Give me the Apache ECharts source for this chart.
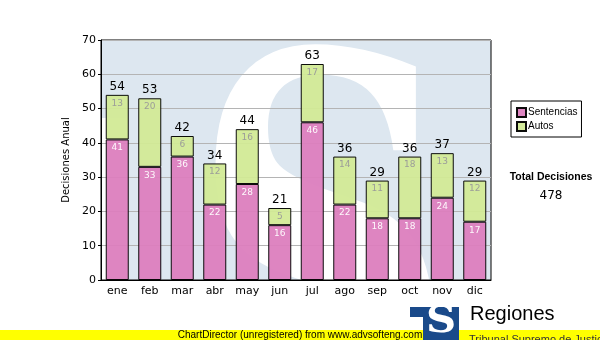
<!DOCTYPE html>
<html>
<head>
<meta charset="utf-8">
<script src="https://cdn.jsdelivr.net/npm/echarts@6/dist/echarts.min.js"></script>
<style>html,body{margin:0;padding:0;background:#fff}#c{width:600px;height:340px}</style>
</head>
<body>
<div id="c"></div>
<script>
var months = ['ene','feb','mar','abr','may','jun','jul','ago','sep','oct','nov','dic'];
var sentencias = [41,33,36,22,28,16,46,22,18,18,24,17];
var autos = [13,20,6,12,16,5,17,14,11,18,13,12];
var totals = sentencias.map(function(v,i){return v+autos[i];});
var grandTotal = totals.reduce(function(a,b){return a+b;},0);

var F = 'DejaVu Sans';
var chart = echarts.init(document.getElementById('c'));
chart.setOption({
  animation: false,
  backgroundColor: '#ffffff',
  grid: {left: 101, top: 40, width: 390, height: 240, show: true, borderColor: '#000', borderWidth: 1, backgroundColor: 'transparent'},
  legend: {
    orient: 'vertical', left: 511, top: 101, data: ['Sentencias','Autos'],
    backgroundColor: '#fff', borderColor: '#000', borderWidth: 1, padding: [6, 4, 5, 5],
    itemWidth: 9, itemHeight: 9, itemGap: 3, icon: 'rect',
    textStyle: {fontFamily: 'Liberation Sans', fontSize: 10, color: '#000', padding: [0,0,0,-3]}
  },
  xAxis: {
    type: 'category', data: months,
    axisLine: {lineStyle: {color: '#000'}},
    axisTick: {alignWithLabel: true, length: 3, lineStyle: {color: '#000'}},
    axisLabel: {fontFamily: F, fontSize: 11, color: '#000', margin: 6}
  },
  yAxis: {
    type: 'value', min: 0, max: 70, interval: 10,
    name: 'Decisiones Anual', nameLocation: 'middle', nameGap: 23,
    nameTextStyle: {fontFamily: F, fontSize: 10, color: '#000'},
    axisLine: {show: true, lineStyle: {color: '#000'}},
    axisTick: {show: true, length: 3, lineStyle: {color: '#000'}},
    axisLabel: {fontFamily: F, fontSize: 11, color: '#000', margin: 5},
    splitLine: {lineStyle: {color: '#b4b4b4'}}
  },
  series: [
    {
      name: 'Sentencias', type: 'bar', stack: 'a', data: sentencias, barWidth: 23,
      itemStyle: {color: '#dc7ebe', borderColor: '#000', borderWidth: 1, opacity: 0.95},
      label: {show: true, position: 'insideTop', distance: 4, color: '#fff', fontFamily: F, fontSize: 9}
    },
    {
      name: 'Autos', type: 'bar', stack: 'a', data: autos, barWidth: 23,
      itemStyle: {color: '#d2ea96', borderColor: '#000', borderWidth: 1, opacity: 0.95},
      label: {show: true, position: 'insideTop', distance: 4, color: '#999', fontFamily: F, fontSize: 9}
    },
    {
      name: 'total', type: 'bar', stack: 'a', data: totals.map(function(){return 0;}), barWidth: 23,
      itemStyle: {color: 'transparent'},
      label: {show: true, position: 'top', distance: 2, color: '#000', fontFamily: F, fontSize: 12,
        formatter: function(p){return totals[p.dataIndex];}}
    }
  ],
  graphic: [
    {type: 'rect', z: -20, shape: {x: 101, y: 40, width: 390, height: 240}, style: {fill: '#fff'}},
    {type: 'polygon', z: -19, shape: {points: [[101,40],[491,40],[491,280],[127,280],[127,118],[101,118]]}, style: {fill: '#dde7f0'}},
    {type: 'text', z: -18, x: 323, y: 35, scaleX: 0.7, style: {text: 'S', fill: '#ffffff', font: 'bold 520px "DejaVu Serif"', textAlign: 'center', textVerticalAlign: 'top'}},
    {type: 'rect', z: -10, shape: {x: 95, y: 281, width: 400, height: 59}, style: {fill: '#fff'}},
    {type: 'rect', z: -10, shape: {x: 95, y: 0, width: 400, height: 39.5}, style: {fill: '#fff'}},
    {type: 'text', x: 551, y: 172, style: {text: 'Total Decisiones', fill: '#000', font: 'bold 10.5px "Liberation Sans"', textAlign: 'center'}},
    {type: 'text', x: 551, y: 190, style: {text: String(grandTotal), fill: '#000', font: '12px "DejaVu Sans"', textAlign: 'center'}},
    {type: 'rect', shape: {x: 0, y: 330, width: 600, height: 10}, style: {fill: '#ffff00'}},
    {type: 'text', x: 300, y: 330, style: {text: 'ChartDirector (unregistered) from www.advsofteng.com', fill: '#000', font: '10px "Liberation Sans"', textAlign: 'center'}},
    {type: 'text', x: 469, y: 334, style: {text: 'Tribunal Supremo de Justicia', fill: '#333', font: '11px "Liberation Sans"'}},
    {type: 'polygon', shape: {points: [[410,307],[459,307],[459,340],[423,340],[423,317],[410,317]]}, style: {fill: '#1a4a8a'}},
    {type: 'text', x: 441, y: 303, scaleX: 1.1, style: {text: 'S', fill: '#fff', font: 'bold 38px "DejaVu Serif"', textAlign: 'center'}},
    {type: 'text', x: 470, y: 304, style: {text: 'Regiones', fill: '#000', font: '20px "Liberation Sans"'}}
  ]
});
</script>
</body>
</html>
